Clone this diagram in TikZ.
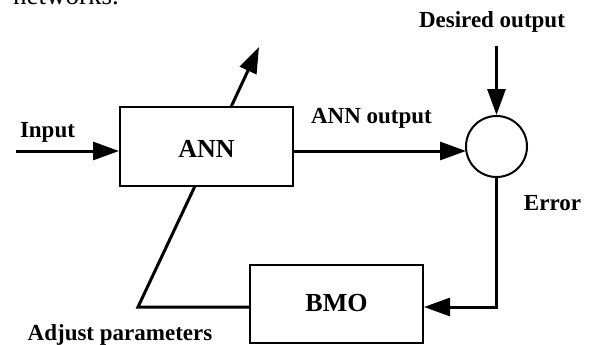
\documentclass[tikz,border=0pt]{standalone}
\usepackage{fontspec}
\setmainfont{Liberation Serif}
\usetikzlibrary{arrows.meta}
\begin{document}
\begin{tikzpicture}[x=1pt,y=-1pt,
  blk/.style={draw,line width=2pt,minimum width=173pt,minimum height=79pt,inner sep=0pt},
  blktxt/.style={font=\fontsize{26}{26}\selectfont\bfseries,inner sep=0pt,anchor=base},
  lbl/.style={font=\fontsize{23}{23}\selectfont\bfseries,inner sep=0pt,anchor=base},
  conn/.style={line width=3pt},
  arr/.style={conn,-{Triangle[length=26pt,width=18pt]}}]
\useasboundingbox (0,0) rectangle (589,345);
\begin{scope}
\clip (0,0) rectangle (589,345);
\node[anchor=base west,inner sep=0pt,font=\fontsize{27}{27}\selectfont] (net) at (13,4.5) {networks.};
\end{scope}
\node[blk] (ann) at (206.5,146.5) {};
\node[blk,minimum height=78pt] (bmo) at (336.5,304) {};
\node[blktxt] (tann) at (206.5,157) {ANN};
\node[blktxt] (tbmo) at (336.5,311.5) {BMO};
\node[draw,circle,line width=2pt,minimum size=61pt,inner sep=0pt] (sum) at (496.5,146.5) {};
\coordinate (in) at (16,151);
\coordinate (hit) at (466,151);
\coordinate (up) at (259,47);
\coordinate (upfoot) at (231,107);
\coordinate (des) at (496.5,46);
\coordinate (corner) at (496.5,307);
\coordinate (adj) at (138,307);
\coordinate (annfoot) at (195,186);
\draw[arr] (in) -- (in -| ann.west);
\draw[arr] (upfoot) -- (up);
\draw[arr] (in -| ann.east) -- (hit);
\draw[arr] (des) -- (sum.north);
\draw[arr] (sum.south) -- (corner) -- (corner -| bmo.east);
\draw[conn,line join=miter] (adj -| bmo.west) -- (adj) -- (annfoot);
\node[lbl] (tin) at (47.5,137) {Input};
\node[lbl] (tout) at (371.5,123) {ANN output};
\node[lbl] (tdes) at (492,28) {Desired output};
\node[lbl] (terr) at (552.5,210.5) {Error};
\node[lbl] (tadj) at (120,340) {Adjust parameters};
\end{tikzpicture}
\end{document}
